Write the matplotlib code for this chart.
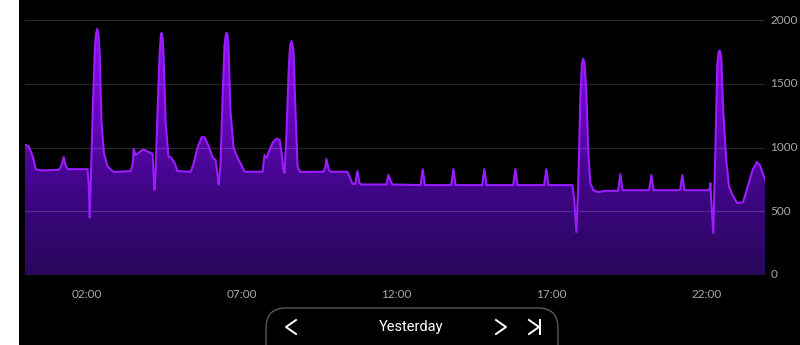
import numpy as np
import matplotlib
matplotlib.use("Agg")
import matplotlib.pyplot as plt
import matplotlib.colors as mcolors
from matplotlib.patches import Rectangle, FancyBboxPatch
from matplotlib.lines import Line2D

plt.rcParams['font.family'] = ['Lato', 'DejaVu Sans']

# ------------------------------------------------------------------
# data: hour of day -> value
hours = [0.00, 0.12, 0.25, 0.35, 0.50, 1.09, 1.18, 1.25, 1.31, 1.38,
         2.02, 2.06, 2.09, 2.12, 2.19, 2.25, 2.29, 2.33, 2.37, 2.41, 2.47, 2.55, 2.67, 2.86,
         3.41, 3.47, 3.51, 3.57, 3.67, 3.82, 3.99, 4.12, 4.15, 4.18, 4.22,
         4.28, 4.35, 4.38, 4.41, 4.44, 4.47, 4.54, 4.63, 4.72, 4.83, 4.92,
         5.35, 5.44, 5.57, 5.70, 5.80, 5.93, 6.06, 6.15, 6.22, 6.25,
         6.31, 6.38, 6.44, 6.48, 6.51, 6.54, 6.57, 6.63, 6.73, 6.86, 6.99, 7.09,
         7.67, 7.73, 7.80, 7.86, 8.00, 8.12, 8.22, 8.28, 8.34, 8.38,
         8.44, 8.51, 8.56, 8.60, 8.64, 8.67, 8.73, 8.80, 8.89,
         9.64, 9.70, 9.73, 9.80, 9.86, 10.41, 10.50, 10.57, 10.66, 10.73, 10.80, 10.86,
         11.67, 11.73, 11.80, 11.86,
         12.77, 12.84, 12.91, 13.76, 13.83, 13.90, 14.76, 14.83, 14.90,
         15.76, 15.83, 15.90, 16.76, 16.83, 16.90,
         17.67, 17.73, 17.80, 17.86, 17.93, 17.98, 18.02, 18.06, 18.12, 18.18, 18.25,
         18.35, 18.51, 18.73,
         19.15, 19.22, 19.29, 20.15, 20.22, 20.29, 21.15, 21.22, 21.29,
         22.09, 22.13, 22.15, 22.22, 22.28, 22.35, 22.39, 22.43, 22.48, 22.54, 22.64,
         22.73, 22.86, 22.99, 23.18, 23.34, 23.50, 23.63, 23.73, 23.89]
values = [1020, 1010, 930, 830, 820, 825, 860, 925, 860, 830,
          830, 700, 450, 700, 1300, 1750, 1890, 1930, 1890, 1750, 1200, 950, 850, 808,
          815, 860, 990, 940, 960, 985, 965, 950, 800, 670, 820,
          1300, 1750, 1860, 1900, 1860, 1750, 1200, 930, 920, 880, 815,
          810, 870, 1000, 1080, 1080, 1010, 920, 905, 780, 710,
          850, 1400, 1800, 1880, 1900, 1880, 1800, 1300, 1000, 920, 860, 810,
          810, 940, 920, 960, 1040, 1070, 1060, 970, 830, 800,
          1100, 1600, 1800, 1835, 1800, 1750, 1300, 850, 808,
          810, 850, 910, 830, 810, 810, 760, 715, 715, 815, 720, 710,
          710, 785, 740, 710,
          705, 830, 705, 705, 830, 705, 705, 830, 705,
          705, 830, 705, 705, 830, 705,
          705, 600, 337, 700, 1400, 1660, 1695, 1670, 1450, 1000, 720,
          665, 650, 660,
          660, 790, 665, 665, 784, 665, 665, 784, 665,
          665, 720, 600, 330, 900, 1650, 1750, 1760, 1700, 1300, 900,
          690, 620, 565, 570, 700, 830, 885, 860, 745]

tick_hours = [2, 7, 12, 17, 22]
tick_labels = ["02:00", "07:00", "12:00", "17:00", "22:00"]
y_ticks = [0, 500, 1000, 1500, 2000]

# ------------------------------------------------------------------
W, H = 800, 345
fig = plt.figure(figsize=(W / 100, H / 100), dpi=100, facecolor="black")

# white strip on the left of the screenshot
fig.patches.append(Rectangle((0, 0), 19 / W, 1, transform=fig.transFigure,
                             facecolor="white", edgecolor="none", zorder=0))

ax = fig.add_axes([25 / W, 70 / H, 740 / W, 255 / H])
ax.set_facecolor("black")
ax.set_xlim(hours[0], hours[-1])
ax.set_ylim(0, 2000)
for s in ax.spines.values():
    s.set_visible(False)

# gradient fill under the curve
cmap = mcolors.LinearSegmentedColormap.from_list("purp", ["#280859", "#3f0586", "#6a08c4", "#9210f5"])
grad = np.linspace(0, 1, 256).reshape(-1, 1)
img = ax.imshow(grad, cmap=cmap, origin="lower", aspect="auto",
                extent=[hours[0], hours[-1], 0, 2000], zorder=1)
poly = ax.fill_between(hours, values, 0, facecolor="none", edgecolor="none", zorder=1)
img.set_clip_path(poly.get_paths()[0], transform=ax.transData)

ax.plot(hours, values, color="#9a1cff", lw=1.5, zorder=3,
        solid_joinstyle="round", solid_capstyle="round")

for yv in y_ticks[1:]:
    ax.axhline(yv, color="#ffffff", alpha=0.16, lw=0.9, zorder=2)

ax.set_xticks(tick_hours)
ax.set_xticklabels(tick_labels)
ax.set_yticks(y_ticks)
ax.yaxis.tick_right()
ax.tick_params(axis="both", length=0, colors="#a8a8a8", labelsize=8.5)
ax.tick_params(axis="x", pad=10)
ax.tick_params(axis="y", pad=4)
for lbl in ax.get_yticklabels():
    lbl.set_verticalalignment("center")

# ------------------------------------------------------------------
# the "Yesterday" navigation button
btn = FancyBboxPatch((266 / W, -20 / H), 292 / W, 57 / H,
                     boxstyle="round,pad=0,rounding_size=0.025",
                     transform=fig.transFigure, facecolor="black",
                     edgecolor="#5a5a5a", lw=1.0, mutation_aspect=W / H)
fig.patches.append(btn)
fig.text(411 / W, (H - 327) / H, "Yesterday", color="white", fontsize=10.5,
         ha="center", va="center", family=["Roboto", "DejaVu Sans"])

def chevron(xc, direction):
    yc = (H - 327) / H
    dx = 5 / W * direction
    dy = 7 / H
    fig.lines.append(Line2D([xc - dx, xc + dx, xc - dx], [yc + dy, yc, yc - dy],
                            transform=fig.transFigure, color="white", lw=1.4))

chevron(291 / W, -1)
chevron(501 / W, 1)
chevron(534 / W, 1)
fig.lines.append(Line2D([540 / W, 540 / W], [(H - 334) / H, (H - 320) / H],
                        transform=fig.transFigure, color="white", lw=1.4))

fig.savefig("out.png", dpi=100, facecolor="black")
